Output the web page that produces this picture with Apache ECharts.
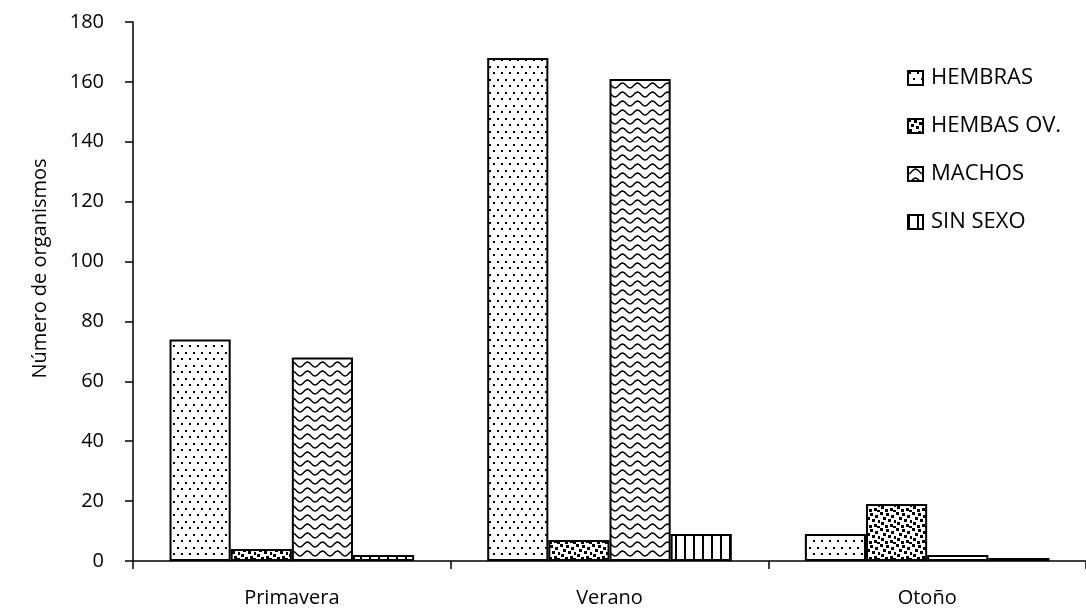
<!DOCTYPE html>
<html>
<head>
<meta charset="utf-8">
<script src="https://cdn.jsdelivr.net/npm/echarts@6/dist/echarts.min.js"></script>
<style>
  html, body { margin: 0; padding: 0; background: #fff; }
  #chart { width: 1086px; height: 610px; }
</style>
</head>
<body>
<div id="chart"></div>
<script>
// Seasons on the category axis
const seasons = ['Primavera', 'Verano', 'Otoño'];

// Organism counts per group and season
const hembras    = [74, 168, 9];
const hembrasOv  = [4, 7, 19];
const machos     = [68, 161, 2];
const sinSexo    = [2, 9, 1];

const seriesNames = ['HEMBRAS', 'HEMBAS OV.', 'MACHOS', 'SIN SEXO'];
const yTicks = { min: 0, max: 180, interval: 20 };

const FONT = '"Open Sans", "DejaVu Sans", sans-serif';

// Monochrome fill patterns drawn on small tiles
function tile(w, h, draw) {
  const c = document.createElement('canvas');
  c.width = w; c.height = h;
  const g = c.getContext('2d');
  g.fillStyle = '#fff';
  g.fillRect(0, 0, w, h);
  g.fillStyle = '#000';
  g.strokeStyle = '#000';
  draw(g);
  return { image: c, repeat: 'repeat' };
}

const dotFill = tile(8, 13, g => {
  g.fillRect(1, 1, 2, 2);
  g.fillRect(5, 7, 2, 2);
});

const confettiFill = tile(16, 16, g => {
  const sq = [[0,0],[6,1],[11,3],[3,5],[8,7],[14,8],[1,10],[10,12],[5,13],[13,14]];
  sq.forEach(p => g.fillRect(p[0], p[1], 3, 3));
});

const waveFill = tile(15, 9, g => {
  g.lineWidth = 1.5;
  g.beginPath();
  for (let x = -1; x <= 16; x += 0.5) {
    const y = 4.5 + 2.4 * Math.cos((x / 15) * Math.PI * 2);
    if (x === -1) g.moveTo(x, y); else g.lineTo(x, y);
  }
  g.stroke();
});

const stripeFill = tile(9, 4, g => {
  g.fillRect(0, 0, 2, 4);
});

const fills = [dotFill, confettiFill, waveFill, stripeFill];
const values = [hembras, hembrasOv, machos, sinSexo];

const chart = echarts.init(document.getElementById('chart'), null, { renderer: 'canvas' });

chart.setOption({
  animation: false,
  backgroundColor: '#fff',
  grid: { left: 133, top: 22, width: 960, height: 539, containLabel: false },
  legend: {
    orient: 'vertical',
    left: 907,
    top: 67,
    itemGap: 26,
    itemWidth: 15,
    itemHeight: 14,
    padding: 0,
    icon: 'rect',
    textStyle: { fontFamily: FONT, fontSize: 22, color: '#000', padding: [0, 0, 0, 3] },
    data: seriesNames
  },
  xAxis: {
    type: 'category',
    data: seasons,
    axisLine: { lineStyle: { color: '#000', width: 1.5 } },
    axisTick: { show: true, length: 8, lineStyle: { color: '#000', width: 1.5 } },
    axisLabel: { color: '#000', fontFamily: FONT, fontSize: 20, margin: 27 }
  },
  yAxis: {
    type: 'value',
    min: yTicks.min,
    max: yTicks.max,
    interval: yTicks.interval,
    name: 'Número de organismos',
    nameLocation: 'middle',
    nameGap: 83,
    nameTextStyle: { color: '#000', fontFamily: FONT, fontSize: 20, padding: [0, 0, 0, 46] },
    splitLine: { show: false },
    axisLine: { show: true, lineStyle: { color: '#000', width: 1.5 } },
    axisTick: { show: true, length: 8, lineStyle: { color: '#000', width: 1.5 } },
    axisLabel: { color: '#000', fontFamily: FONT, fontSize: 20, margin: 29 }
  },
  series: seriesNames.map((name, i) => ({
    name,
    type: 'bar',
    data: values[i],
    barGap: '0%',
    barCategoryGap: '23%',
    itemStyle: { color: fills[i], borderColor: '#000', borderWidth: 2 }
  }))
});
</script>
</body>
</html>
